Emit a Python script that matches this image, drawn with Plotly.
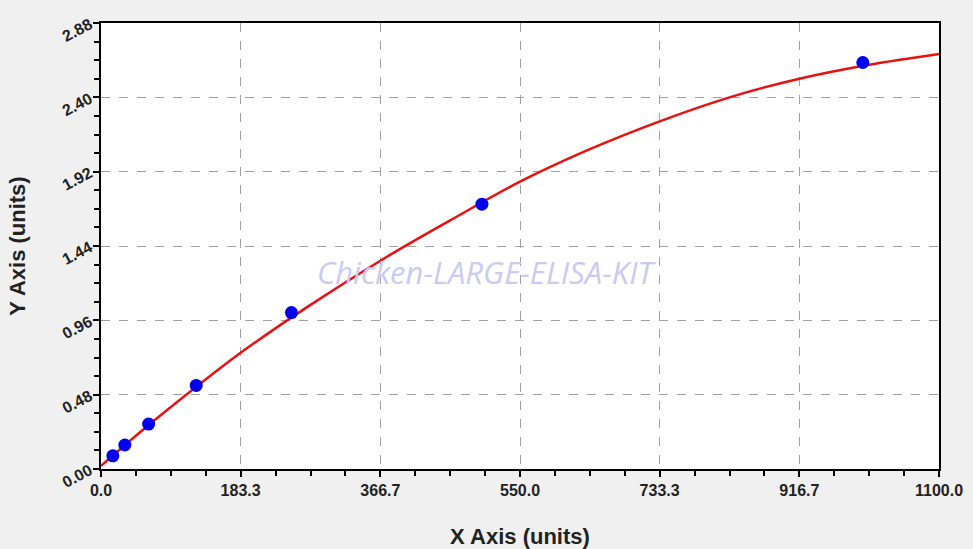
import plotly.graph_objects as go

# standards (measured points)
std_x = [15.6, 31.25, 62.5, 125, 250, 500, 1000]
std_y = [0.085, 0.155, 0.29, 0.54, 1.01, 1.71, 2.625]

# fitted curve
curve_x = [0, 45.8, 91.7, 183.3, 275, 366.7, 458.3, 550, 641.7, 733.3, 825, 916.7, 1008.3, 1100]
curve_y = [0.02, 0.215, 0.40, 0.75, 1.06, 1.345, 1.605, 1.855, 2.065, 2.245, 2.40, 2.52, 2.61, 2.68]

x_ticks = [0, 183.3, 366.7, 550.0, 733.3, 916.7, 1100.0]
x_labels = ["0.0", "183.3", "366.7", "550.0", "733.3", "916.7", "1100.0"]
y_ticks = [0.00, 0.48, 0.96, 1.44, 1.92, 2.40, 2.88]
y_labels = ["0.00", "0.48", "0.96", "1.44", "1.92", "2.40", "2.88"]

watermark = "Chicken-LARGE-ELISA-KIT"

font_main = "Arial, Liberation Sans, sans-serif"

fig = go.Figure()

fig.add_annotation(xref="paper", yref="paper", x=0.461, y=0.442, text=watermark, showarrow=False,
                   font=dict(family="Open Sans", size=31, color="#cacaf2", style="italic"))

fig.add_trace(go.Scatter(x=curve_x, y=curve_y, mode="lines", line=dict(color="#e81010", width=2.5, shape="spline"),
                         hoverinfo="none"))
fig.add_trace(go.Scatter(x=std_x, y=std_y, mode="markers", marker=dict(color="#0000ee", size=13),
                         hoverinfo="x+y"))

axis_common = dict(showline=True, linecolor="black", linewidth=2, mirror=True,
                   showgrid=True, gridcolor="#a0a0a0", griddash="dash", gridwidth=1,
                   zeroline=False, ticks="outside", ticklen=6, tickwidth=1.5, tickcolor="black",
                   automargin=False,
                   tickfont=dict(family=font_main, size=16, color="#222", weight="bold"))

fig.update_layout(
    width=973, height=549,
    paper_bgcolor="#f0f0f0", plot_bgcolor="white",
    margin=dict(l=101, r=34, t=23, b=80),
    showlegend=False,
    xaxis=dict(range=[0, 1100], tickvals=x_ticks, ticktext=x_labels,
               minor=dict(dtick=1100 / 24, ticks="outside", ticklen=5, tickcolor="black", showgrid=False),
               title=dict(text="X Axis (units)", standoff=32,
                          font=dict(family=font_main, size=22, color="#222", weight="bold")),
               **axis_common),
    yaxis=dict(range=[0, 2.88], tickvals=y_ticks, ticktext=y_labels, tickangle=-28,
               minor=dict(dtick=0.12, ticks="outside", ticklen=5, tickcolor="black", showgrid=False),
               title=dict(text="Y Axis (units)", standoff=28,
                          font=dict(family=font_main, size=22, color="#222", weight="bold")),
               **axis_common),
)

fig.write_html("out.html", config={"displayModeBar": False},
               post_script="document.body.style.margin='0';")
